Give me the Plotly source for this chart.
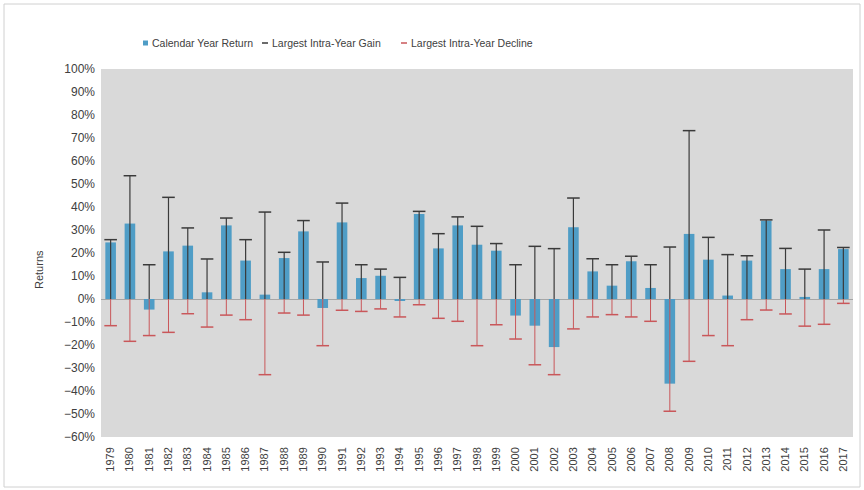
import plotly.graph_objects as go

years = [str(y) for y in range(1979, 2018)]
calendar_return = [24.6, 32.8, -4.6, 20.7, 23.2, 2.9, 32.0, 16.7, 1.9, 17.8,
                   29.4, -3.9, 33.3, 9.1, 10.1, -0.6, 37.0, 22.0, 32.0, 23.6,
                   21.0, -7.2, -11.6, -20.9, 31.2, 12.0, 5.8, 16.4, 4.8, -36.8,
                   28.3, 17.1, 1.5, 16.7, 34.0, 13.0, 0.9, 13.0, 21.7]
intra_gain = [25.8, 53.6, 14.9, 44.2, 30.9, 17.4, 35.2, 25.8, 37.8, 20.3,
              34.1, 16.1, 41.7, 14.9, 13.0, 9.4, 38.1, 28.4, 35.7, 31.6,
              24.1, 14.9, 22.9, 21.9, 43.9, 17.5, 14.9, 18.6, 14.9, 22.6,
              73.2, 26.8, 19.3, 18.8, 34.4, 22.0, 13.0, 30.0, 22.4]
intra_decline = [-11.6, -18.4, -15.9, -14.5, -6.4, -12.2, -7.0, -9.0, -32.9, -6.1,
                 -7.0, -20.3, -4.9, -5.4, -4.3, -7.8, -2.5, -8.4, -9.7, -20.3,
                 -11.2, -17.4, -28.6, -32.9, -13.0, -7.8, -6.8, -7.8, -9.7, -48.8,
                 -27.1, -15.9, -20.3, -9.0, -4.8, -6.5, -11.8, -11.0, -1.9]
series_names = ["Calendar Year Return", "Largest Intra-Year Gain", "Largest Intra-Year Decline"]

FONT = "Liberation Sans, Arial, sans-serif"
BAR_COLOR = "#4f9dc6"
GAIN_COLOR = "#3a3a3a"
DECL_COLOR = "#c9575a"
TEXT_COLOR = "#404040"

fig = go.Figure()
fig.add_trace(go.Bar(
    x=years, y=calendar_return, name=series_names[0],
    marker=dict(color=BAR_COLOR, line=dict(width=0)),
))
fig.add_trace(go.Scatter(
    x=years, y=intra_gain, name=series_names[1], mode="markers",
    marker=dict(symbol="line-ew", size=9, color=GAIN_COLOR,
                line=dict(color=GAIN_COLOR, width=1.5)),
    error_y=dict(type="data", symmetric=False, array=[0] * len(years),
                 arrayminus=intra_gain, width=0, color=GAIN_COLOR, thickness=1.2),
))
fig.add_trace(go.Scatter(
    x=years, y=intra_decline, name=series_names[2], mode="markers",
    marker=dict(symbol="line-ew", size=9, color=DECL_COLOR,
                line=dict(color=DECL_COLOR, width=1.5)),
    error_y=dict(type="data", symmetric=False, array=[-d for d in intra_decline],
                 arrayminus=[0] * len(years), width=0, color=DECL_COLOR, thickness=1),
))

L, R, T, B = 101, 11, 69, 53
W, H = 864, 490
pw, ph = W - L - R, H - T - B

def px_x(x):
    return (x - L) / pw

def px_y(y):
    return (H - B - y) / ph

# manual legend (symbol + text), positioned like the reference
LEG_Y = 43
shapes = [
    dict(type="rect", xref="paper", yref="paper",
         x0=px_x(4), x1=px_x(860), y0=px_y(487), y1=px_y(4),
         line=dict(color="#d0d0d0", width=1), fillcolor="rgba(0,0,0,0)", layer="below"),
    dict(type="rect", xref="paper", yref="paper",
         x0=px_x(143), x1=px_x(148), y0=px_y(LEG_Y + 2.5), y1=px_y(LEG_Y - 2.5),
         line=dict(width=0), fillcolor=BAR_COLOR),
    dict(type="line", xref="paper", yref="paper",
         x0=px_x(262), x1=px_x(268), y0=px_y(LEG_Y), y1=px_y(LEG_Y),
         line=dict(color=GAIN_COLOR, width=1.5)),
    dict(type="line", xref="paper", yref="paper",
         x0=px_x(401), x1=px_x(407), y0=px_y(LEG_Y), y1=px_y(LEG_Y),
         line=dict(color=DECL_COLOR, width=1.5)),
]
annotations = [
    dict(text="Returns", xref="paper", yref="paper",
         x=px_x(39), y=px_y(270), xanchor="center", yanchor="middle",
         showarrow=False, textangle=-90, font=dict(size=11, color=TEXT_COLOR)),
]
for name, tx in zip(series_names, [150, 270, 409]):
    annotations.append(dict(text=name, xref="paper", yref="paper",
                            x=px_x(tx), y=px_y(LEG_Y), xanchor="left", yanchor="middle",
                            showarrow=False, font=dict(size=10.5, color=TEXT_COLOR)))

fig.update_layout(
    width=W, height=H,
    margin=dict(l=L, r=R, t=T, b=B),
    paper_bgcolor="white",
    plot_bgcolor="#d9d9d9",
    bargap=0.45,
    font=dict(family=FONT, size=11, color=TEXT_COLOR),
    showlegend=False,
    xaxis=dict(type="category", range=[-0.5, len(years) - 0.5], tickangle=-90,
               showgrid=False, zeroline=False, showline=False, ticks="",
               ticklabelstandoff=7, tickfont=dict(size=11, color=TEXT_COLOR)),
    yaxis=dict(range=[-60, 100], dtick=10, ticksuffix="%", showgrid=False,
               zeroline=True, zerolinecolor="#a6a6a6", zerolinewidth=1,
               showline=False, ticks="", ticklabelstandoff=5,
               tickfont=dict(size=12, color=TEXT_COLOR)),
    shapes=shapes,
    annotations=annotations,
)

fig.write_html("out.html")
